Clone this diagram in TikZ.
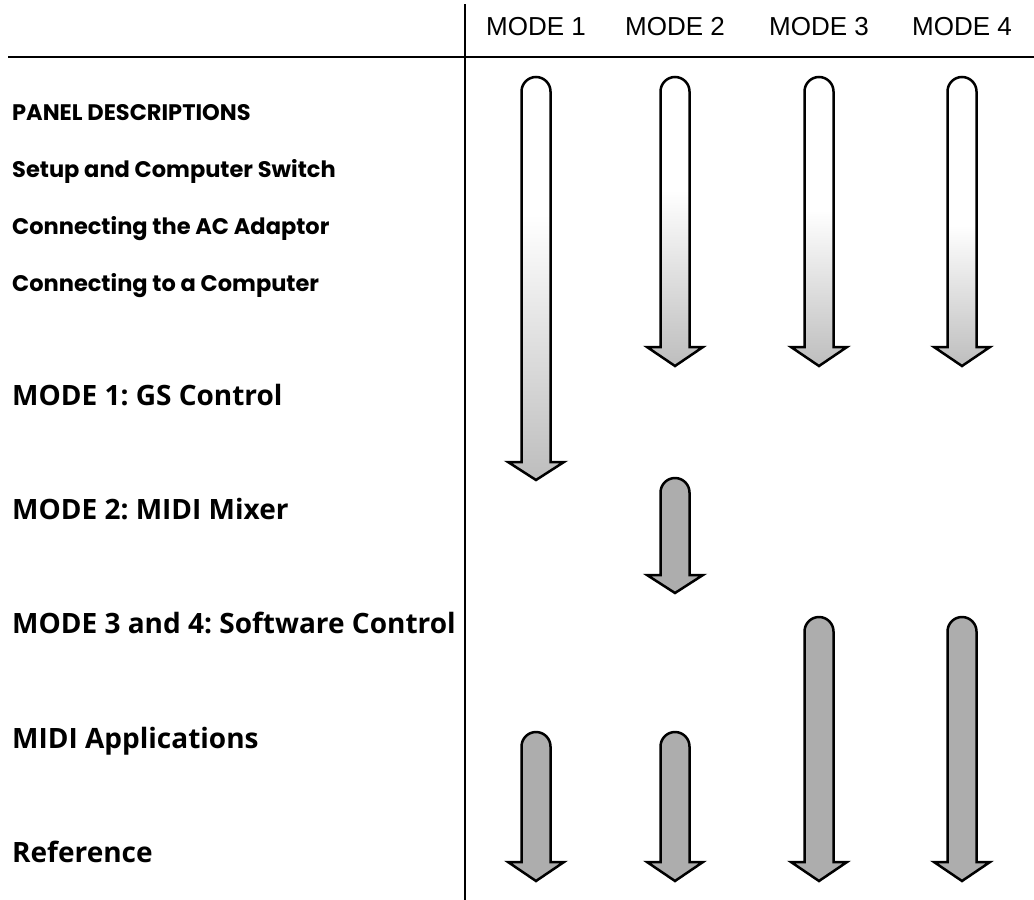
\documentclass[tikz,border=0pt]{standalone}
\usepackage{fontspec}
\setmainfont{Liberation Sans}
\newfontfamily\geofont{Poppins}
\newfontfamily\humfont{Open Sans}
\newfontfamily\hdrfont{Liberation Sans}
\frenchspacing
\definecolor{solidgray}{gray}{0.68}
\definecolor{fadegray}{gray}{0.74}
\newcommand{\arrowpath}[4]{({#1-14.5},#3) -- ({#1-14.5},{#2+14.5}) arc[start angle=180,end angle=360,radius=14.5] -- ({#1+14.5},#3) -- ({#1+28},#3) -- (#1,#4) -- ({#1-28},#3) -- cycle}
% solid arrow: cx, top, wing, tip
\newcommand{\solidarrow}[4]{%
  \fill[solidgray] \arrowpath{#1}{#2}{#3}{#4};
  \draw[arrowline] \arrowpath{#1}{#2}{#3}{#4};
}
% fading arrow: cx, top, wing, tip, fade start
\newcommand{\fadearrow}[5]{%
  \begin{scope}
    \clip \arrowpath{#1}{#2}{#3}{#4};
    \fill[white] ({#1-30},{#2-2}) rectangle ({#1+30},{#5});
    \shade[top color=white,bottom color=fadegray] ({#1-30},#5) rectangle ({#1+30},{#4+2});
  \end{scope}
  \draw[arrowline] \arrowpath{#1}{#2}{#3}{#4};
}
\tikzset{
  arrowline/.style={line width=2.5pt,line join=miter,black},
  rule/.style={line width=2.8pt,black},
  hdr/.style={anchor=base,inner sep=0pt,font=\hdrfont\fontsize{26}{30}\selectfont},
  small/.style={anchor=base west,inner sep=0pt,font=\geofont\bfseries\fontsize{22.5}{27}\selectfont},
  big/.style={anchor=base west,inner sep=0pt,font=\humfont\bfseries\fontsize{28}{33}\selectfont}
}
\begin{document}
\begin{tikzpicture}[x=1pt,y=-1pt]
\useasboundingbox (0,0) rectangle (1034,900);
% rules
\coordinate (vtop) at (465,4);
\coordinate (vbot) at (465,900);
\coordinate (hl) at (8,57);
\coordinate (hr) at (1034,57);
\draw[rule] (vtop) -- (vbot);
\draw[rule] (hl) -- (hr);
% headers
\node[hdr] (m1) at (536,35) {MODE 1};
\node[hdr] (m2) at (675,35) {MODE 2};
\node[hdr] (m3) at (819,35) {MODE 3};
\node[hdr] (m4) at (962,35) {MODE 4};
% row labels
\node[small] (r1) at (12,120) {PANEL DESCRIPTIONS};
\node[small] (r2) at (12,177) {Setup and Computer Switch};
\node[small] (r3) at (12,234) {Connecting the AC Adaptor};
\node[small] (r4) at (12,291) {Connecting to a Computer};
\node[big] (r5) at (12,405) {MODE 1: GS Control};
\node[big] (r6) at (12,519) {MODE 2: MIDI Mixer};
\node[big] (r7) at (12,633) {MODE 3 and 4: Software Control};
\node[big] (r8) at (12,748) {MIDI Applications};
\node[big] (r9) at (12,862) {Reference};
% arrows
\fadearrow{536}{77}{462}{480}{215}
\fadearrow{675}{77}{347}{366}{190}
\fadearrow{819}{77}{347}{366}{210}
\fadearrow{962}{77}{347}{366}{225}
\solidarrow{675}{478}{575}{593}
\solidarrow{819}{617}{862}{881}
\solidarrow{962}{617}{862}{881}
\solidarrow{536}{732}{862}{881}
\solidarrow{675}{732}{862}{881}
\end{tikzpicture}
\end{document}
